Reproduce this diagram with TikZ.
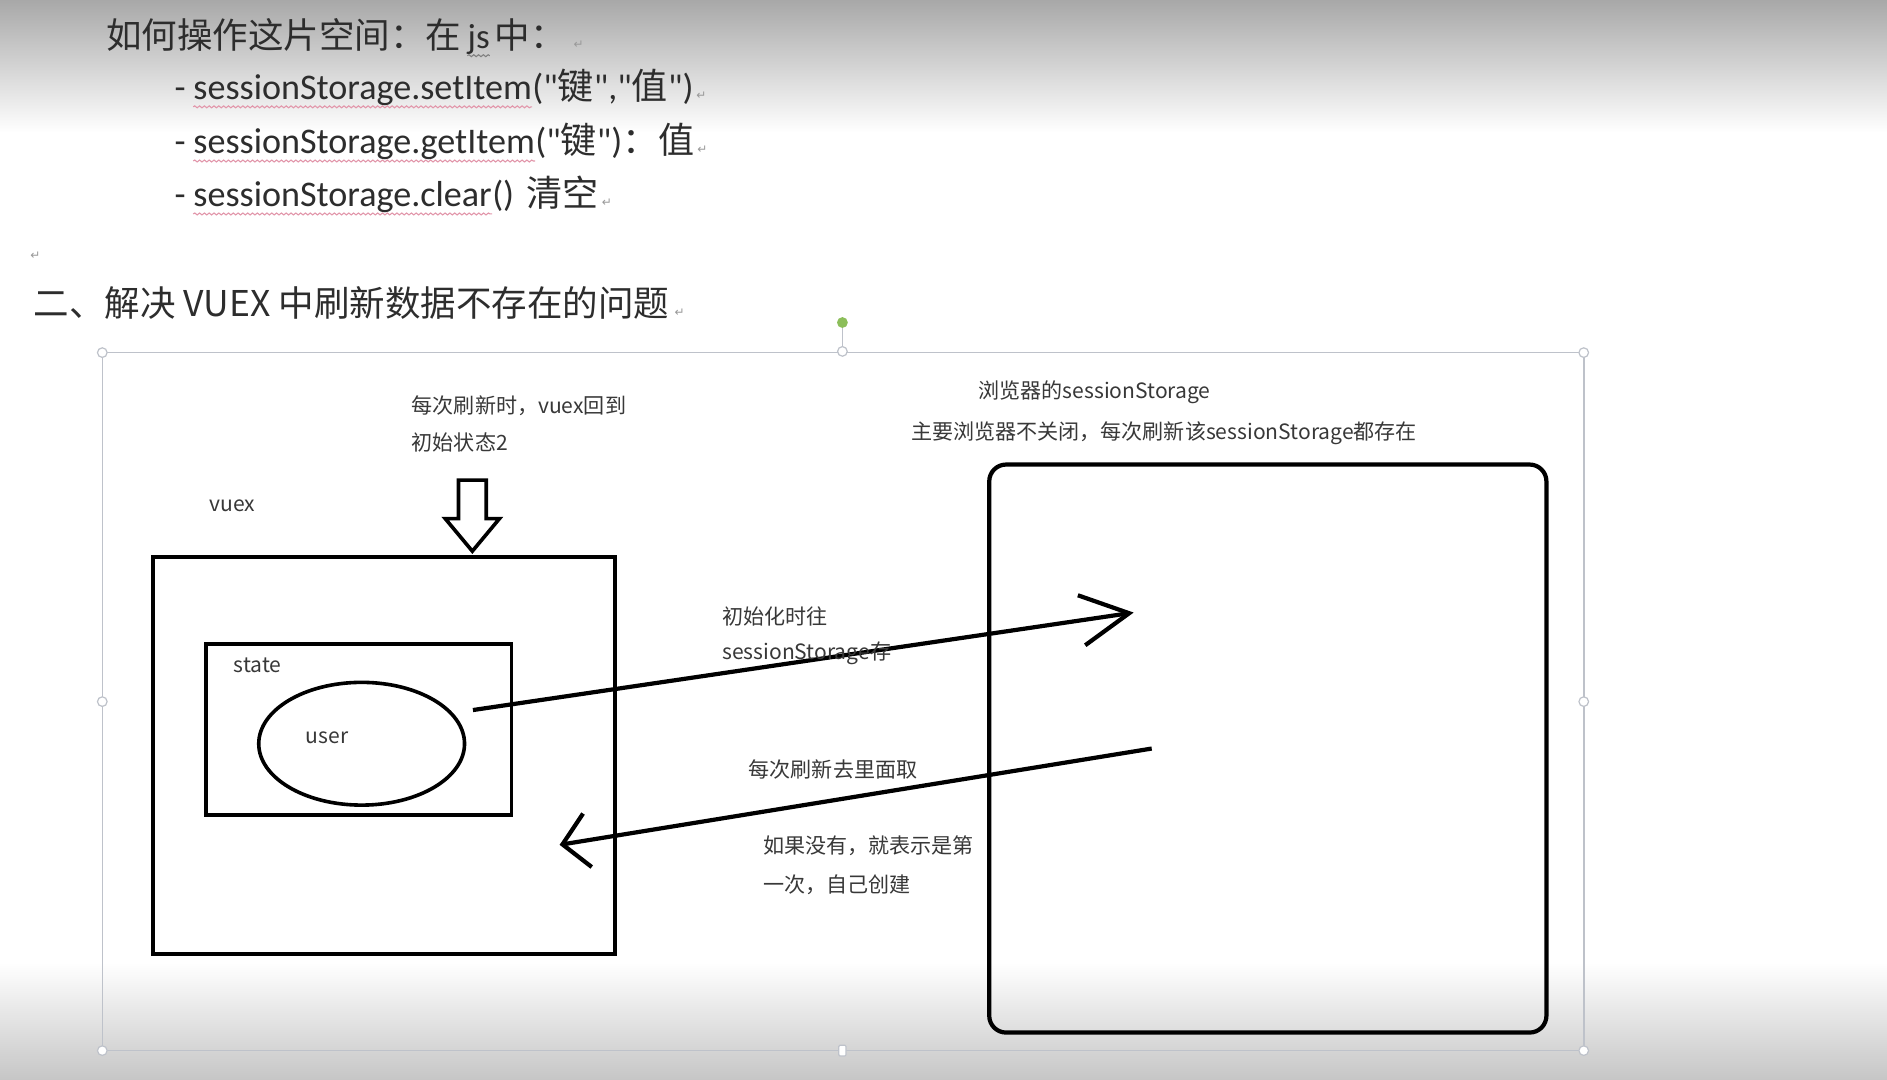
\documentclass[tikz,border=0pt]{standalone}
\usepackage{fontspec}
\setmainfont{Carlito}[Ligatures=TeXOff]
\newfontfamily\cjk{Noto Sans CJK SC}
\newfontfamily\symf{DejaVu Sans}
\usetikzlibrary{arrows.meta,shapes.geometric,decorations.pathmorphing,positioning}

\definecolor{topgray}{RGB}{168,168,168}
\definecolor{botgray}{RGB}{198,198,198}
\definecolor{framegray}{RGB}{190,194,202}
\definecolor{spellpink}{RGB}{226,150,170}
\definecolor{rotgreen}{RGB}{140,190,90}
\definecolor{inkgray}{RGB}{45,45,45}

\begin{document}
\begin{tikzpicture}[x=1pt, y=-1pt,
  head/.style={anchor=west, inner sep=0pt, text=inkgray, font=\cjk\fontsize{29.5}{33}\selectfont},
  item/.style={anchor=west, inner sep=0pt, text=inkgray, font=\fontsize{30}{34}\selectfont},
  pmark/.style={anchor=base west, inner sep=0pt, text=black!40, font=\symf\fontsize{10}{12}\selectfont},
  wavy/.style={draw=spellpink, line width=0.9pt, decorate, decoration={snake, amplitude=0.8pt, segment length=4pt}},
  txt/.style={anchor=west, inner sep=0pt, text=black!78, font=\cjk\fontsize{17.5}{20}\selectfont},
  box/.style={draw, line width=3.5pt, inner sep=0pt, outer sep=0pt},
  flow/.style={draw, line width=3.5pt},
  frame/.style={draw=framegray, line width=1.3pt},
  handle/.style={circle, draw=framegray, fill=white, line width=1pt, minimum size=8pt, inner sep=0pt}]

\useasboundingbox (0,0) rectangle (1568,897);
\fill[white] (0,0) rectangle (1568,897);
\shade[top color=topgray, bottom color=white] (0,0) rectangle (1568,110);
\shade[top color=white, bottom color=botgray] (0,800) rectangle (1568,897);

% notes above the diagram
\node[head] (h1) at (88,29) {如何操作这片空间：在};
\node[item, anchor=base west, font=\fontsize{29}{32}\selectfont] (js) at ([xshift=5]h1.base east) {js};
\node[head, anchor=base west] (h1b) at ([xshift=4]js.base east) {中：};
\node[pmark] (m1) at ([xshift=6]h1b.base east) {↵};
\draw[wavy, draw=black!50] ([yshift=-6]js.base west) -- ([yshift=-6]js.base east);

\node[item] (d1) at (145,78) {-};
\node[item, anchor=base west] (set) at ([xshift=6]d1.base east) {sessionStorage.setItem};
\node[item, anchor=base west] (seta) at (set.base east) {("{\cjk 键}","{\cjk 值}")};
\node[pmark] (m2) at ([xshift=2]seta.base east) {↵};

\node[item] (d2) at (145,123) {-};
\node[item, anchor=base west] (get) at ([xshift=6]d2.base east) {sessionStorage.getItem};
\node[item, anchor=base west] (geta) at (get.base east) {("{\cjk 键}"){\cjk ：值}};
\node[pmark] (m3) at ([xshift=2]geta.base east) {↵};

\node[item] (d3) at (145,167) {-};
\node[item, anchor=base west] (clr) at ([xshift=6]d3.base east) {sessionStorage.clear};
\node[item, anchor=base west] (clrp) at (clr.base east) {()};
\node[item, anchor=base west] (clra) at ([xshift=10]clrp.base east) {{\cjk 清空}};
\node[pmark] (m4) at ([xshift=2]clra.base east) {↵};

\foreach \w in {set,get,clr}
  \draw[wavy] ([yshift=-6]\w.base west) -- ([yshift=-6]\w.base east);

\node[pmark] (m5) at (25,216) {↵};
\node[head] (sec) at (28,252) {二、解决 VUEX 中刷新数据不存在的问题};
\node[pmark] (m6) at ([xshift=4]sec.base east) {↵};

% selection frame
\draw[frame] (85,293) rectangle (1316,873);
\draw[frame] (700,268) -- (700,292);
\foreach \p/\n in {(85,293)/hnw,(700,292)/hn,(1316,293)/hne,(85,583)/hw,(1316,583)/he,(85,873)/hsw,(1316,873)/hse}
  \node[handle] (\n) at \p {};
\node[handle, rectangle, rounded corners=1pt, minimum width=6pt, minimum height=9pt] (hs) at (700,873) {};
\node[circle, fill=rotgreen, minimum size=9pt, inner sep=0pt] (rot) at (700,268) {};

% vuex side
\node[txt] (reset1) at (342,337) {每次刷新时，vuex回到};
\node[txt] (reset2) at (342,368) {初始状态2};
\draw[line width=3pt, line join=miter, fill=white] (381,399) -- (404,399) -- (404,431) -- (415,431) -- (392.5,458) -- (370,431) -- (381,431) -- cycle;

\node[txt] (vuexlbl) at (174,420) {vuex};
\node[box, minimum width=384, minimum height=330] (vuex) at (319,628) {};
\node[box, line width=3pt, minimum width=254, minimum height=142] (state) at (298,606) {};
\node[txt] (statelbl) at (194,553) {state};
\node[ellipse, draw, line width=3pt, minimum width=171, minimum height=102, inner sep=0pt] (user) at (300.5,618) {};
\node[txt] (userlbl) at (254,613) {user};

% browser side
\node[txt] (sslbl) at (813,326) {浏览器的sessionStorage};
\node[txt] (ssnote) at (757,360) {主要浏览器不关闭，每次刷新该sessionStorage都存在};
\node[box, rounded corners=14pt, minimum width=463, minimum height=472] (storage) at (1053.5,622) {};

% connectors
\coordinate (out) at (393,590);
\coordinate (save) at (942,509);
\coordinate (fetch) at (957,622);
\coordinate (back) at (465,702);
\draw[flow, -{Straight Barb[length=40pt,width=42pt]}] (out) -- (save);
\draw[flow, -{Straight Barb[length=21pt,width=45pt]}] (fetch) -- (back);

\node[txt] (initlbl1) at (600,512) {初始化时往};
\node[txt] (initlbl2) at (600,543) {sessionStorage存};
\node[txt] (fetchlbl) at (622,639) {每次刷新去里面取};
\node[txt] (firstlbl1) at (634,703) {如果没有，就表示是第};
\node[txt] (firstlbl2) at (634,735) {一次，自己创建};

\end{tikzpicture}
\end{document}
